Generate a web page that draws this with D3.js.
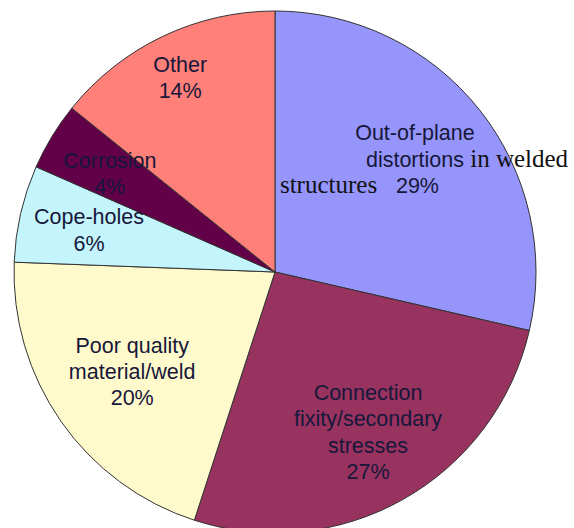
<!DOCTYPE html>
<html>
<head>
<meta charset="utf-8">
<script src="https://cdn.jsdelivr.net/npm/d3@7"></script>
<style>
  html, body { margin: 0; padding: 0; background: #fff; }
  svg { display: block; }
</style>
</head>
<body>
<svg id="chart" width="574" height="528"></svg>
<script>
// ---- data ----
const categories = [
  "Out-of-plane distortions in welded structures",
  "Connection fixity/secondary stresses",
  "Poor quality material/weld",
  "Cope-holes",
  "Corrosion",
  "Other"
];
// slice sizes
const values = [28.6, 26.4, 20.6, 6.0, 4.2, 14.2];
// percentage labels as printed on the chart
const percentLabels = ["29%", "27%", "20%", "6%", "4%", "14%"];
const colors = ["#9595fb", "#983360", "#fffacc", "#c4f4fc", "#620048", "#fe8079"];

// label line texts (percent appended as last line)
const labelLines = [
  null, // special mixed-font label
  ["Connection", "fixity/secondary", "stresses"],
  ["Poor quality", "material/weld"],
  ["Cope-holes"],
  ["Corrosion"],
  ["Other"]
];

// ---- layout ----
const W = 574, H = 528;
const cx = 275, cy = 272, R = 261;
const labelK = 0.7;
const labelShift = [[-3, 1], [3, 1], [7, -5], [-8, -1], [-9, -3.5], [-16, -30]];
const lineH = 26.3, capH = 15;
const textColor = "#17173a";
const sansFont = "'Liberation Sans', Arial, sans-serif";
const serifFont = "'Liberation Serif', 'Times New Roman', serif";

const svg = d3.select("#chart");
const g = svg.append("g").attr("transform", `translate(${cx},${cy})`);

const pie = d3.pie().sort(null).value(d => d)(values);
const arc = d3.arc().innerRadius(0).outerRadius(R);
const labelArc = d3.arc().innerRadius(R * labelK).outerRadius(R * labelK);

g.selectAll("path.slice")
  .data(pie)
  .join("path")
  .attr("class", "slice")
  .attr("d", arc)
  .attr("fill", (d, i) => colors[i])
  .attr("stroke", "#333")
  .attr("stroke-width", 1)
  .attr("stroke-linejoin", "round");

pie.forEach((d, i) => {
  const [lx0, ly0] = labelArc.centroid(d);
  const lx = lx0 + labelShift[i][0];
  const lyc = ly0 + labelShift[i][1];
  if (labelLines[i]) {
    const lines = labelLines[i].concat([percentLabels[i]]);
    const n = lines.length;
    const first = lyc - (capH + (n - 1) * lineH) / 2 + capH;
    const t = g.append("text")
      .attr("text-anchor", "middle")
      .attr("font-family", sansFont)
      .attr("font-size", 21.5)
      .attr("fill", textColor);
    lines.forEach((s, j) => {
      t.append("tspan").attr("x", lx).attr("y", first + j * lineH).text(s);
    });
  } else {
    // mixed-font label for Out-of-plane slice
    const n = 3;
    const first = lyc - (capH + (n - 1) * lineH) / 2 + capH;
    g.append("text")
      .attr("x", lx).attr("y", first)
      .attr("text-anchor", "middle")
      .attr("font-family", sansFont).attr("font-size", 21.5)
      .attr("fill", textColor)
      .text("Out-of-plane");
    const t2 = g.append("text").attr("x", lx - 49).attr("y", first + lineH);
    t2.append("tspan").attr("font-family", sansFont).attr("font-size", 21.5)
      .attr("fill", textColor).text("distortions");
    t2.append("tspan").attr("font-family", serifFont).attr("font-size", 25)
      .attr("fill", "#111").text(" in welded");
    g.append("text").attr("x", lx - 135).attr("y", first + 2 * lineH)
      .attr("font-family", serifFont).attr("font-size", 25)
      .attr("fill", "#111").text("structures");
    g.append("text").attr("x", lx - 19).attr("y", first + 2 * lineH)
      .attr("font-family", sansFont).attr("font-size", 21.5)
      .attr("fill", textColor).text(percentLabels[i]);
  }
});
</script>
</body>
</html>
